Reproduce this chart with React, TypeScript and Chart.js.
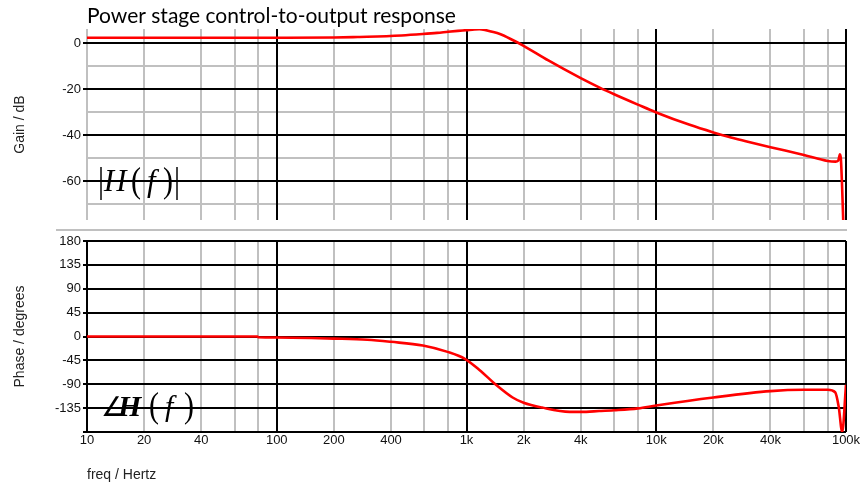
import React, { useEffect, useRef } from "react";
import { Chart, registerables } from "chart.js";

Chart.register(...registerables);

// ---------- data ----------
const titleText = "Power stage control-to-output response";
const gainAxisTitle = "Gain / dB";
const phaseAxisTitle = "Phase / degrees";
const freqAxisTitle = "freq / Hertz";

const gainFreq = [10, 30, 100, 200, 267, 300, 455, 587, 700, 800, 900, 1000, 1100, 1170, 1250, 1350, 1500, 1750, 2000, 2700, 4000, 5000, 6000, 8000, 10000, 15000, 20000, 24000, 30000, 40000, 60000, 80000, 88000, 91000, 92900, 94000, 96500, 98000];
const gainDb = [2.3, 2.3, 2.3, 2.4, 2.6, 2.7, 3.3, 3.9, 4.4, 4.9, 5.3, 5.6, 5.9, 6.0, 5.7, 5.0, 3.9, 1.3, -1.2, -7.6, -15.3, -19.3, -22.3, -26.8, -30.2, -35.6, -38.9, -40.8, -42.8, -45.3, -48.7, -51.3, -51.6, -51.2, -48.4, -50.5, -75, -95];

const phaseFreq = [10, 79, 80, 100, 200, 300, 400, 589, 795, 980, 1170, 1430, 1750, 2000, 2500, 3500, 4000, 5000, 6000, 8000, 10000, 20000, 40000, 60000, 80000, 87700, 91500, 95500, 100000];
const phaseDeg = [0, 0, -1.5, -2, -4, -6, -10, -17, -29, -42, -63, -91, -115, -125, -134, -142, -142, -140.5, -139, -135.5, -130, -115, -103, -100.5, -100.5, -105, -132, -180, -91];

const freqTicks = [10, 20, 40, 60, 80, 100, 200, 400, 600, 800, 1000, 2000, 4000, 6000, 8000, 10000, 20000, 40000, 60000, 80000, 100000];
const freqLabels = ["10", "20", "40", "", "", "100", "200", "400", "", "", "1k", "2k", "4k", "", "", "10k", "20k", "40k", "", "", "100k"];
const gainTicks = [-70, -60, -50, -40, -30, -20, -10, 0];
const gainLabels = ["", "-60", "", "-40", "", "-20", "", "0"];
const phaseTicks = [-180, -135, -90, -45, 0, 45, 90, 135, 180];
const phaseLabels = ["", "-135", "-90", "-45", "0", "45", "90", "135", "180"];

// ---------- styles ----------
const BLACK = "#000000";
const GRAY = "#c0c0c0";
const RED = "#ff0000";
const NONE = "rgba(0,0,0,0)";
const sans = "'Liberation Sans', Arial, sans-serif";
const serif = "'Liberation Serif', 'Times New Roman', serif";
const tickFont = { family: sans, size: 13 };
const axisTitleFont = { family: sans, size: 14 };

const isDecade = (v: number) => Math.abs(Math.log10(v) - Math.round(Math.log10(v))) < 1e-9;
const setTicks = (values: number[]) => (scale: any) => {
  scale.ticks = values.map((v) => ({ value: v }));
};
const labelFrom = (values: number[], labels: string[]) => (value: any) => {
  const i = values.findIndex((v) => Math.abs(v - Number(value)) < 1e-6);
  return i >= 0 ? labels[i] : "";
};

type Glyph = { t: string; font: string; dx: number; base: number; sy?: number; cy?: number };

const gainGlyphs: Glyph[] = [
  { t: "|", font: `30px ${serif}`, dx: 11, base: 10, sy: 1.22, cy: 4 },
  { t: "H", font: `italic 31px ${serif}`, dx: 17, base: 10 },
  { t: "(", font: `30px ${serif}`, dx: 44, base: 10, sy: 1.2, cy: 4 },
  { t: "f", font: `italic 31px ${serif}`, dx: 60, base: 10 },
  { t: ")", font: `30px ${serif}`, dx: 76, base: 10, sy: 1.2, cy: 4 },
  { t: "|", font: `30px ${serif}`, dx: 87, base: 10, sy: 1.22, cy: 4 },
];
const phaseGlyphs: Glyph[] = [
  { t: "∠", font: `27px ${serif}`, dx: 14, base: 7.5 },
  { t: "H", font: `italic bold 30px ${serif}`, dx: 31, base: 7.5 },
  { t: "(", font: `30px ${serif}`, dx: 62, base: 7.5, sy: 1.22, cy: 0 },
  { t: "f", font: `italic 30px ${serif}`, dx: 78, base: 7.5 },
  { t: ")", font: `30px ${serif}`, dx: 97, base: 7.5, sy: 1.22, cy: 0 },
];

const glyphPlugin = (id: string, glyphs: Glyph[], anchorValue: number) => ({
  id,
  afterDatasetsDraw(chart: any) {
    const ctx = chart.ctx;
    const x0 = chart.chartArea.left;
    const y0 = chart.scales.y.getPixelForValue(anchorValue);
    ctx.save();
    ctx.fillStyle = "#000";
    ctx.textAlign = "left";
    ctx.textBaseline = "alphabetic";
    for (const g of glyphs) {
      ctx.save();
      ctx.font = g.font;
      const cy = g.cy ?? 0;
      ctx.translate(x0 + g.dx, y0 + cy);
      ctx.scale(1, g.sy ?? 1);
      ctx.fillText(g.t, 0, g.base - cy);
      ctx.restore();
    }
    ctx.restore();
  },
});

const separatorPlugin = {
  id: "separator",
  afterDraw(chart: any) {
    const ctx = chart.ctx;
    ctx.save();
    ctx.strokeStyle = GRAY;
    ctx.lineWidth = 2;
    ctx.beginPath();
    ctx.moveTo(56, 230);
    ctx.lineTo(chart.chartArea.right + 1, 230);
    ctx.stroke();
    ctx.restore();
  },
};

const minorFreq = (withLeft: boolean) => freqTicks.filter((v) => !isDecade(v) || (withLeft && v === 10));

function makeXScales(top: boolean) {
  return {
    xMinor: {
      axis: "x",
      type: "logarithmic",
      position: "bottom",
      min: 10,
      max: 100000,
      afterBuildTicks: setTicks(minorFreq(top)),
      afterFit: (s: any) => { s.height = 0; },
      ticks: { display: false },
      grid: { color: GRAY, lineWidth: 2, drawTicks: false, z: -2 },
      border: { display: false },
    },
    x: {
      type: "logarithmic",
      position: "bottom",
      min: 10,
      max: 100000,
      afterBuildTicks: setTicks(freqTicks),
      afterFit: (s: any) => { s.height = top ? 12 : 52; },
      ticks: {
        display: !top,
        autoSkip: false,
        maxRotation: 0,
        minRotation: 0,
        padding: 1,
        font: tickFont,
        color: "#111",
        callback: labelFrom(freqTicks, freqLabels),
      },
      grid: {
        color: (c: any) => (c.tick && isDecade(c.tick.value) && !(top && c.tick.value === 10) ? BLACK : NONE),
        lineWidth: 2,
        drawTicks: false,
        z: -1,
      },
      border: { display: false },
      title: {
        display: !top,
        text: freqAxisTitle,
        align: "start",
        font: axisTitleFont,
        color: "#222",
        padding: { top: 0, bottom: 0 },
      },
    },
  };
}

function TopChart() {
  const ref = useRef<HTMLCanvasElement>(null);
  useEffect(() => {
    const chart = new Chart(ref.current as HTMLCanvasElement, {
      type: "line",
      data: {
        datasets: [
          {
            data: gainFreq.map((f, i) => ({ x: f, y: gainDb[i] })),
            borderColor: RED,
            borderWidth: 2.6,
            pointRadius: 0,
            cubicInterpolationMode: "monotone",
            xAxisID: "x",
            yAxisID: "y",
          },
        ],
      },
      options: {
        animation: false,
        responsive: false,
        events: [],
        layout: { padding: { top: 0, right: 16, bottom: 0, left: 0 } },
        plugins: {
          legend: { display: false },
          tooltip: { enabled: false },
          title: {
            display: true,
            text: titleText,
            align: "start",
            fullSize: false,
            color: "#000",
            font: { family: "Lato, 'Open Sans', sans-serif", size: 21, weight: "normal", lineHeight: "25px" },
            padding: { top: 4, bottom: 0 },
          },
        },
        scales: {
          ...makeXScales(true),
          yMinor: {
            axis: "y",
            position: "left",
            min: -77,
            max: 6.1,
            afterBuildTicks: setTicks(gainTicks.filter((v) => v % 20 !== 0)),
            afterFit: (s: any) => { s.width = 0; },
            ticks: { display: false },
            grid: { color: GRAY, lineWidth: 2, drawTicks: false, z: -2 },
            border: { display: false },
          },
          y: {
            position: "left",
            min: -77,
            max: 6.1,
            afterBuildTicks: setTicks(gainTicks),
            afterFit: (s: any) => { s.width = 87; },
            ticks: { font: tickFont, color: "#111", padding: 2, autoSkip: false, callback: labelFrom(gainTicks, gainLabels) },
            grid: {
              color: (c: any) => (c.tick && c.tick.value % 20 === 0 ? BLACK : NONE),
              tickColor: (c: any) => (c.tick && c.tick.value % 20 === 0 ? BLACK : NONE),
              lineWidth: 2,
              tickLength: 4,
              z: -1,
            },
            border: { display: false },
            title: { display: true, text: gainAxisTitle, font: axisTitleFont, color: "#222", padding: { top: 12, bottom: 0 } },
          },
        },
      } as any,
      plugins: [glyphPlugin("gainGlyphs", gainGlyphs, -60), separatorPlugin],
    });
    return () => chart.destroy();
  }, []);
  return <canvas ref={ref} width={862} height={232} style={{ position: "absolute", left: 0, top: 0, width: 862, height: 232 }} />;
}

function BottomChart() {
  const ref = useRef<HTMLCanvasElement>(null);
  useEffect(() => {
    const chart = new Chart(ref.current as HTMLCanvasElement, {
      type: "line",
      data: {
        datasets: [
          {
            data: phaseFreq.map((f, i) => ({ x: f, y: phaseDeg[i] })),
            borderColor: RED,
            borderWidth: 2.6,
            pointRadius: 0,
            cubicInterpolationMode: "monotone",
            xAxisID: "x",
            yAxisID: "y",
          },
        ],
      },
      options: {
        animation: false,
        responsive: false,
        events: [],
        layout: { padding: { top: 11, right: 16, bottom: 0, left: 0 } },
        plugins: { legend: { display: false }, tooltip: { enabled: false }, title: { display: false } },
        scales: {
          ...makeXScales(false),
          y: {
            position: "left",
            min: -180,
            max: 180,
            afterBuildTicks: setTicks(phaseTicks),
            afterFit: (s: any) => { s.width = 87; },
            ticks: { font: tickFont, color: "#111", padding: 2, autoSkip: false, callback: labelFrom(phaseTicks, phaseLabels) },
            grid: { color: BLACK, tickColor: BLACK, lineWidth: 2, tickLength: 4, z: -1 },
            border: { display: false },
            title: { display: true, text: phaseAxisTitle, font: axisTitleFont, color: "#222", padding: { top: 12, bottom: 0 } },
          },
        },
      } as any,
      plugins: [glyphPlugin("phaseGlyphs", phaseGlyphs, -135)],
    });
    return () => chart.destroy();
  }, []);
  return <canvas ref={ref} width={862} height={254} style={{ position: "absolute", left: 0, top: 230, width: 862, height: 254 }} />;
}

export default function App() {
  return (
    <div style={{ position: "absolute", left: 0, top: 0, width: 862, height: 484, background: "#fff" }}>
      <TopChart />
      <BottomChart />
    </div>
  );
}
